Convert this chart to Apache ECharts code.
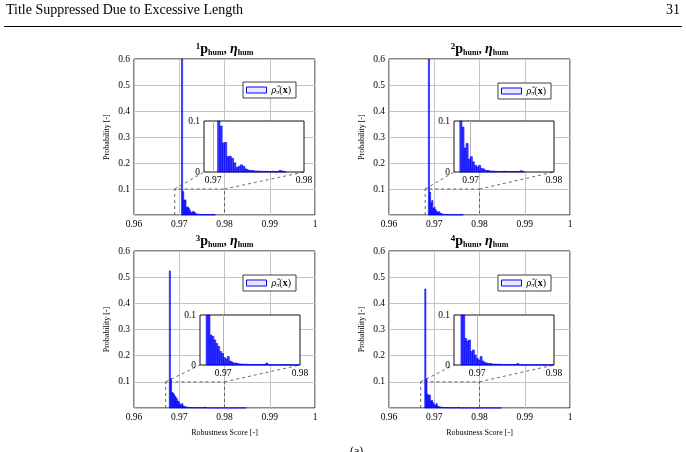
<!DOCTYPE html>
<html>
<head>
<meta charset="utf-8">
<script src="https://cdn.jsdelivr.net/npm/echarts@6/dist/echarts.min.js"></script>
<style>
html, body { margin: 0; padding: 0; background: #fff; }
#chart { width: 686px; height: 452px; }
</style>
</head>
<body>
<div id="chart"></div>
<script>
// histogram bins: left edge of first bin, constant bin width, bar heights
var binWidth = 0.00025;

var start1 = 0.9705;
var heights1 = [0.63, 0.090, 0.057, 0.058, 0.030, 0.031, 0.027, 0.018, 0.009, 0.011,
  0.014, 0.011, 0.006, 0.004, 0.003, 0.003, 0.002, 0.002, 0.0015, 0.0015,
  0.001, 0.0015, 0.001, 0.001, 0.0015, 0.001, 0.001, 0.003, 0.002, 0.0005];

var start2 = 0.9687;
var heights2 = [0.65, 0.088, 0.047, 0.056, 0.025, 0.030, 0.020, 0.013, 0.010, 0.013,
  0.007, 0.006, 0.003, 0.003, 0.002, 0.002, 0.0015, 0.0015, 0.001, 0.001,
  0.001, 0.0015, 0.001, 0.001, 0.001, 0.001, 0.001, 0.001, 0.001, 0.0025, 0.001];

var start3 = 0.9678;
var heights3 = [0.524, 0.112, 0.060, 0.057, 0.050, 0.043, 0.037, 0.027, 0.023, 0.015,
  0.012, 0.017, 0.008, 0.006, 0.004, 0.004, 0.003, 0.002, 0.002, 0.0015,
  0.0015, 0.0015, 0.001, 0.001, 0.001, 0.001, 0.001, 0.001, 0.001, 0.001,
  0.001, 0.004, 0.001, 0.0005, 0.0004, 0.0005, 0.0004, 0.0004, 0.0003, 0.0004,
  0.0004, 0.0003, 0.0004, 0.0004, 0.0003, 0.0004, 0.0003, 0.0003, 0.0004, 0.0003,
  0.0003, 0.0003, 0.0004, 0.0003, 0.0003, 0.0003, 0.0003, 0.0003, 0.0003, 0.0003,
  0.0003, 0.0003, 0.0003, 0.0003, 0.0003, 0.0003, 0.0003, 0.0003];

var start4 = 0.9679;
var heights4 = [0.455, 0.112, 0.053, 0.048, 0.050, 0.027, 0.030, 0.020, 0.013, 0.010,
  0.017, 0.008, 0.005, 0.004, 0.003, 0.003, 0.002, 0.002, 0.0015, 0.0015,
  0.0015, 0.001, 0.001, 0.001, 0.001, 0.001, 0.001, 0.001, 0.001, 0.003,
  0.001, 0.0005, 0.0004, 0.0004, 0.0005, 0.0004, 0.0004, 0.0003, 0.0004, 0.0004,
  0.0003, 0.0004, 0.0003, 0.0004, 0.0003, 0.0003, 0.0004, 0.0003, 0.0003, 0.0003,
  0.0003, 0.0003, 0.0003, 0.0003, 0.0003, 0.0003, 0.0003, 0.0003, 0.0003, 0.0003,
  0.0003, 0.0003, 0.0003, 0.0003, 0.0003, 0.0003, 0.0003, 0.0003];

var plotIds = ['1', '2', '3', '4'];
var xMain = [0.96, 1];
var yMain = [0, 0.6];
var insetMin = [0.969, 0.968, 0.967, 0.967];
var insetMax = 0.98;
var insetLabels = [0.97, 0.98];
var zoomTop = 0.1;

var FONT = 'Liberation Serif';
var chart = echarts.init(document.getElementById('chart'));

var starts = [start1, start2, start3, start4];
var heights = [heights1, heights2, heights3, heights4];

function histData(start, h) {
  return h.map(function (v, k) {
    var x0 = start + k * binWidth;
    return [x0, x0 + binWidth, v];
  });
}

function renderBin(params, api) {
  var p0 = api.coord([api.value(0), api.value(2)]);
  var p1 = api.coord([api.value(1), 0]);
  var rect = echarts.graphic.clipRectByRect({
    x: p0[0], y: p0[1], width: p1[0] - p0[0], height: p1[1] - p0[1]
  }, {
    x: params.coordSys.x, y: params.coordSys.y,
    width: params.coordSys.width, height: params.coordSys.height
  });
  return rect && {
    type: 'rect',
    shape: rect,
    style: { fill: 'rgba(0,0,255,0.75)', stroke: '#0000ff', lineWidth: 0.6 }
  };
}

// layout boxes [left, top, width, height]
var mainBox = [[134, 59, 181, 156], [389, 59, 181, 156], [134, 251, 181, 157], [389, 251, 181, 157]];
var insetBox = [[204, 121, 100, 51], [454, 121, 100, 51], [200, 315, 100, 50], [454, 315, 100, 50]];
var legendPos = [[243, 82], [498, 83], [243, 275], [498, 275]];

var grids = [], xAxes = [], yAxes = [], series = [], titles = [], legends = [];

mainBox.forEach(function (b, i) {
  grids.push({ left: b[0], top: b[1], width: b[2], height: b[3], show: true,
    borderColor: '#111', borderWidth: 1, backgroundColor: 'transparent', z: 0 });
  xAxes.push({
    type: 'value', gridIndex: i, min: xMain[0], max: xMain[1], interval: 0.01,
    axisLine: { show: false }, axisTick: { show: false },
    axisLabel: { fontFamily: FONT, fontSize: 9.5, color: '#000', margin: 4 },
    splitLine: { show: true, lineStyle: { color: '#c4c4c4', width: 1 } },
    name: i >= 2 ? 'Robustness Score [-]' : '', nameLocation: 'middle', nameGap: 21,
    nameTextStyle: { fontFamily: FONT, fontSize: 8, color: '#000' }
  });
  yAxes.push({
    type: 'value', gridIndex: i, min: yMain[0], max: yMain[1], interval: 0.1,
    axisLine: { show: false }, axisTick: { show: false },
    axisLabel: { fontFamily: FONT, fontSize: 9.5, color: '#000', margin: 4,
      formatter: function (v) { return v === 0 ? '' : v; } },
    splitLine: { show: true, lineStyle: { color: '#c4c4c4', width: 1 } },
    name: 'Probability [-]', nameLocation: 'middle', nameGap: 23, nameRotate: 90,
    nameTextStyle: { fontFamily: FONT, fontSize: 8, color: '#000' }
  });
  series.push({
    name: 'rho', type: 'custom', xAxisIndex: i, yAxisIndex: i, z: 2,
    renderItem: renderBin, encode: { x: [0, 1], y: 2 },
    data: histData(starts[i], heights[i])
  });
  titles.push({
    text: '{sup|' + plotIds[i] + '}{b|p}{sub|hum}{n|, }{eta|η}{sub|hum}',
    left: b[0] + b[2] / 2, top: b[1] - 17, textAlign: 'center', padding: 0,
    textStyle: {
      fontFamily: FONT, color: '#000',
      rich: {
        sup: { fontFamily: FONT, fontSize: 9, lineHeight: 8, verticalAlign: 'top' },
        b: { fontFamily: FONT, fontSize: 14, fontWeight: 'bold', lineHeight: 15 },
        sub: { fontFamily: FONT, fontSize: 8, fontWeight: 'bold', lineHeight: 6, verticalAlign: 'bottom' },
        n: { fontFamily: FONT, fontSize: 13, lineHeight: 15 },
        eta: { fontFamily: FONT, fontSize: 14, fontWeight: 'bold', fontStyle: 'italic', lineHeight: 15 }
      }
    }
  });
  legends.push({
    left: legendPos[i][0], top: legendPos[i][1], padding: [3, 5, 3, 3],
    itemWidth: 20, itemHeight: 6, itemGap: 4, selectedMode: false,
    borderColor: '#111', borderWidth: 0.8, backgroundColor: '#fff', z: 10,
    data: [{ name: 'rho', icon: 'rect',
      itemStyle: { color: 'rgba(120,120,255,0.15)', borderColor: '#0000ff', borderWidth: 1 } }],
    formatter: function () { return '{r|ρ\u0302}{s|π}{n|(}{x|x}{n|)}'; },
    textStyle: {
      fontFamily: FONT, color: '#000', fontSize: 10,
      rich: {
        r: { fontFamily: FONT, fontSize: 10, fontStyle: 'italic' },
        s: { fontFamily: FONT, fontSize: 6, verticalAlign: 'bottom', lineHeight: 6 },
        n: { fontFamily: FONT, fontSize: 10 },
        x: { fontFamily: FONT, fontSize: 10, fontWeight: 'bold' }
      }
    }
  });
});

insetBox.forEach(function (b, i) {
  var g = 4 + i;
  grids.push({ left: b[0], top: b[1], width: b[2], height: b[3], show: true,
    borderColor: '#111', borderWidth: 1, backgroundColor: '#fff', z: 5 });
  xAxes.push({
    type: 'value', gridIndex: g, min: insetMin[i], max: insetMax, z: 6,
    axisLine: { show: false },
    axisTick: { show: false, customValues: [insetLabels[0]] },
    axisLabel: { fontFamily: FONT, fontSize: 9.5, color: '#000', margin: 3, customValues: insetLabels },
    splitLine: { show: true, lineStyle: { color: '#b4b4b4', width: 1 } }
  });
  yAxes.push({
    type: 'value', gridIndex: g, min: 0, max: zoomTop, interval: zoomTop, z: 6,
    axisLine: { show: false }, axisTick: { show: false },
    axisLabel: { fontFamily: FONT, fontSize: 9.5, color: '#000', margin: 4 },
    splitLine: { show: false }
  });
  series.push({
    name: 'rho', type: 'custom', xAxisIndex: g, yAxisIndex: g, z: 7,
    renderItem: renderBin, encode: { x: [0, 1], y: 2 },
    data: histData(starts[i], heights[i])
  });
});

chart.setOption({
  animation: false,
  backgroundColor: '#fff',
  title: titles,
  legend: legends,
  grid: grids,
  xAxis: xAxes,
  yAxis: yAxes,
  series: series
});

// page header, zoom box and connector lines
var graphics = [
  { type: 'text', left: 6, top: 3, style: { text: 'Title Suppressed Due to Excessive Length',
      font: '14px "Liberation Serif"', fill: '#000' } },
  { type: 'text', right: 6, top: 3, style: { text: '31', font: '14px "Liberation Serif"', fill: '#000' } },
  { type: 'line', shape: { x1: 4, y1: 26.5, x2: 682, y2: 26.5 }, style: { stroke: '#000', lineWidth: 1 } },
  { type: 'text', left: 350, top: 446, style: { text: '(a)', font: '12px "Liberation Serif"', fill: '#000' } }
];
for (var i = 0; i < 4; i++) {
  var px = function (x, y) { return chart.convertToPixel({ gridIndex: i }, [x, y]); };
  var x0 = insetMin[i];
  var a = px(x0, 0), bTop = px(x0, zoomTop), c = px(insetMax, zoomTop), d = px(insetMax, 0);
  var il = chart.convertToPixel({ gridIndex: 4 + i }, [x0, 0]);
  var ir = chart.convertToPixel({ gridIndex: 4 + i }, [insetMax, 0]);
  var dash = { stroke: '#444', lineWidth: 0.8, lineDash: [3, 3], fill: null };
  graphics.push({ type: 'polyline', z: 3, shape: { points: [a, bTop, c, d] }, style: dash });
  graphics.push({ type: 'line', z: 3, shape: { x1: bTop[0], y1: bTop[1], x2: il[0], y2: il[1] }, style: dash });
  graphics.push({ type: 'line', z: 3, shape: { x1: c[0], y1: c[1], x2: ir[0], y2: ir[1] }, style: dash });
}
chart.setOption({ graphic: graphics });
</script>
</body>
</html>
